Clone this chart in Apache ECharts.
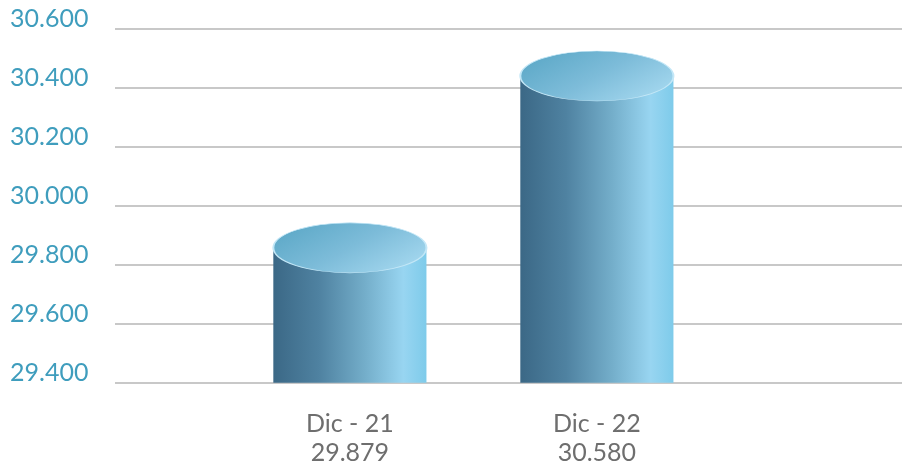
<!DOCTYPE html>
<html>
<head>
<meta charset="utf-8">
<script src="https://cdn.jsdelivr.net/npm/echarts@6/dist/echarts.min.js"></script>
<style>html,body{margin:0;padding:0;background:#fff;overflow:hidden}#c{width:902px;height:463px}</style>
</head>
<body>
<div id="c"></div>
<script>
const categories = ['Dic - 21', 'Dic - 22'];
const valueLabels = ['29.879', '30.580'];
const barValues = [29.857, 30.439];
const yMin = 29.4, yMax = 30.6, yStep = 0.2;

const chart = echarts.init(document.getElementById('c'));
const FONT = 'Lato';

function renderCylinder(params, api) {
  const i = params.dataIndex;
  const x = api.value(0);
  const v = api.value(1);
  const top = api.coord([x, v]);
  const base = api.coord([x, yMin]);
  const w = api.size([1, 0])[0] * 0.62;
  const rx = w / 2, ry = 25;
  const left = top[0] - rx;
  return {
    type: 'group',
    children: [
      {
        type: 'rect',
        shape: { x: left, y: top[1], width: w, height: base[1] - top[1] },
        style: {
          fill: new echarts.graphic.LinearGradient(0, 0, 1, 0, [
            { offset: 0, color: '#3b6886' },
            { offset: 0.3, color: '#4f82a1' },
            { offset: 0.6, color: '#74aeca' },
            { offset: 0.85, color: '#98d5f1' },
            { offset: 1, color: '#7ecbea' }
          ])
        }
      },
      {
        type: 'circle',
        x: top[0], y: top[1], scaleY: ry / rx,
        shape: { cx: 0, cy: 0, r: rx },
        style: {
          fill: new echarts.graphic.LinearGradient(0, 0.2, 1, 0.8, [
            { offset: 0, color: '#5ca8c7' },
            { offset: 0.5, color: '#7dbcd9' },
            { offset: 1, color: '#a6d9f0' }
          ]),
          stroke: '#c3e7f7',
          lineWidth: 2
        }
      },
      {
        type: 'text',
        x: base[0], y: base[1] + 27,
        style: {
          text: categories[i] + '\n' + valueLabels[i],
          fontFamily: FONT, fontSize: 25, lineHeight: 29,
          fill: '#6e6e6e', align: 'center', verticalAlign: 'top'
        }
      }
    ]
  };
}

chart.setOption({
  animation: false,
  grid: { left: 115, width: 820, top: 28.5, bottom: 80.3, outerBoundsMode: 'none', containLabel: false },
  xAxis: { type: 'value', min: -0.951, max: 2.369, show: false },
  yAxis: {
    type: 'value', min: yMin, max: yMax, interval: yStep,
    axisLine: { show: false }, axisTick: { show: false },
    splitLine: { lineStyle: { color: '#c8c8c8', width: 2 } },
    axisLabel: {
      align: 'left', verticalAlign: 'bottom', lineHeight: 20, margin: 105,
      fontFamily: FONT, fontSize: 25, color: '#3f9dbd',
      formatter: v => v.toFixed(3)
    }
  },
  series: [
    {
      type: 'custom',
      renderItem: renderCylinder,
      data: categories.map((c, i) => [i, barValues[i]])
    }
  ]
});
</script>
</body>
</html>
